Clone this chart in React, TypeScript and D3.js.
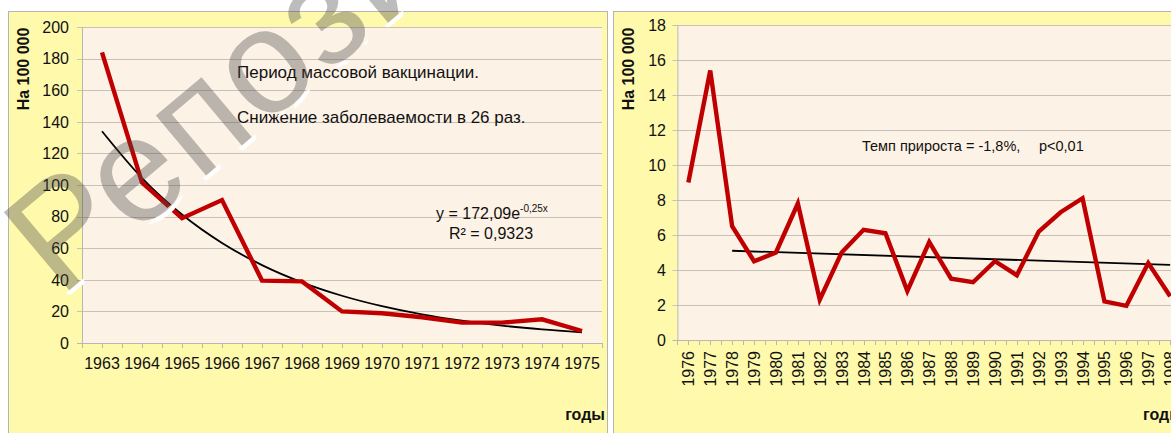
import { useEffect, useRef } from 'react';
import * as d3 from 'd3';

const WIDTH = 1171;
const HEIGHT = 433;
const FONT = '"Liberation Sans", Arial, sans-serif';

// left chart: 1963-1975, mass vaccination period
const yearsA = ['1963', '1964', '1965', '1966', '1967', '1968', '1969', '1970', '1971', '1972', '1973', '1974', '1975'];
const casesA = [184, 101.5, 79, 90.5, 39.5, 39, 20, 18.8, 16.3, 12.9, 12.9, 15, 7.6];
// exponential trend y = 172,09e^-0,25x
const trendA = [134.0, 104.4, 81.3, 63.3, 49.3, 38.4, 29.9, 23.3, 18.1, 14.1, 11.0, 8.6, 6.7];
const ticksA = [0, 20, 40, 60, 80, 100, 120, 140, 160, 180, 200];

// right chart: 1976-1998
const yearsB = ['1976', '1977', '1978', '1979', '1980', '1981', '1982', '1983', '1984', '1985', '1986', '1987', '1988', '1989', '1990', '1991', '1992', '1993', '1994', '1995', '1996', '1997', '1998'];
const casesB = [9.0, 15.4, 6.5, 4.5, 5.0, 7.8, 2.3, 5.0, 6.3, 6.1, 2.8, 5.6, 3.5, 3.3, 4.5, 3.7, 6.2, 7.3, 8.1, 2.2, 1.95, 4.4, 2.5];
const trendBYears = ['1978', '1998'];
const trendBValues = [5.1, 4.29];
const ticksB = [0, 2, 4, 6, 8, 10, 12, 14, 16, 18];

type Sel = d3.Selection<SVGGElement, unknown, null, undefined>;

interface PanelOpts {
  panelX: number;
  plotLeft: number;
  plotTop: number;
  plotBottom: number;
  band: number;
  years: string[];
  yMax: number;
  ticks: number[];
  cases: number[];
  trendYears: string[];
  trendValues: number[];
  rotateLabels: boolean;
  tickLabelX: number;
}

function drawPanel(root: Sel, o: PanelOpts) {
  const g = root.append('g');
  g.append('rect')
    .attr('x', o.panelX + 0.5)
    .attr('y', 11.5)
    .attr('width', 599)
    .attr('height', 500)
    .attr('fill', '#fff9ac')
    .attr('stroke', '#b4b4b4');

  const x = d3
    .scaleBand<string>()
    .domain(o.years)
    .range([o.plotLeft, o.plotLeft + o.band * o.years.length])
    .padding(0);
  const cx = (yr: string) => (x(yr) ?? 0) + x.bandwidth() / 2;
  const y = d3.scaleLinear().domain([0, o.yMax]).range([o.plotBottom, o.plotTop]);
  const plotRight = o.plotLeft + o.band * o.years.length;

  g.append('rect')
    .attr('x', o.plotLeft)
    .attr('y', o.plotTop)
    .attr('width', plotRight - o.plotLeft)
    .attr('height', o.plotBottom - o.plotTop)
    .attr('fill', '#fdf2e6');

  // gridlines + left ticks
  g.append('g')
    .selectAll('line')
    .data(o.ticks.filter((t) => t > 0))
    .join('line')
    .attr('x1', o.plotLeft - 5)
    .attr('x2', plotRight)
    .attr('y1', (t) => Math.round(y(t)) + 0.5)
    .attr('y2', (t) => Math.round(y(t)) + 0.5)
    .attr('stroke', '#c9c1b9')
    .attr('stroke-width', 1);

  // axes
  g.append('line')
    .attr('x1', o.plotLeft + 0.5)
    .attr('x2', o.plotLeft + 0.5)
    .attr('y1', o.plotTop)
    .attr('y2', o.plotBottom)
    .attr('stroke', '#b8b8b0');
  g.append('line')
    .attr('x1', o.plotLeft - 5)
    .attr('x2', plotRight)
    .attr('y1', o.plotBottom + 0.5)
    .attr('y2', o.plotBottom + 0.5)
    .attr('stroke', '#b8b8b0');

  // x tick marks at every half category
  const halfTicks = d3.range(0, o.years.length * 2 + 1).map((i) => o.plotLeft + (i * o.band) / 2);
  g.append('g')
    .selectAll('line')
    .data(halfTicks)
    .join('line')
    .attr('x1', (v) => Math.round(v) + 0.5)
    .attr('x2', (v) => Math.round(v) + 0.5)
    .attr('y1', o.plotBottom)
    .attr('y2', o.plotBottom + 5)
    .attr('stroke', '#b8b8b0');

  // y tick labels
  g.append('g')
    .selectAll('text')
    .data(o.ticks)
    .join('text')
    .attr('x', o.tickLabelX)
    .attr('y', (t) => y(t))
    .attr('dy', '0.36em')
    .attr('text-anchor', 'end')
    .attr('font-family', FONT)
    .attr('font-size', 16)
    .attr('fill', '#111')
    .text((t) => String(t));

  // x tick labels
  const xl = g
    .append('g')
    .selectAll('text')
    .data(o.years)
    .join('text')
    .attr('font-family', FONT)
    .attr('font-size', 16)
    .attr('fill', '#111')
    .text((d) => d);
  if (o.rotateLabels) {
    xl.attr('text-anchor', 'end').attr(
      'transform',
      (d) => `translate(${cx(d) + 6},${o.plotBottom + 11}) rotate(-90)`,
    );
  } else {
    xl.attr('text-anchor', 'middle')
      .attr('x', (d) => cx(d))
      .attr('y', o.plotBottom + 26);
  }

  const line = d3
    .line<number>()
    .x((_, i) => cx(o.years[i]))
    .y((v) => y(v));

  // trend
  const trendLine = d3
    .line<number>()
    .x((_, i) => cx(o.trendYears[i]))
    .y((v) => y(v))
    .curve(d3.curveMonotoneX);
  g.append('path')
    .datum(o.trendValues)
    .attr('d', trendLine)
    .attr('fill', 'none')
    .attr('stroke', '#000')
    .attr('stroke-width', 1.8);

  g.append('path')
    .datum(o.cases)
    .attr('d', line)
    .attr('fill', 'none')
    .attr('stroke', '#c00000')
    .attr('stroke-width', 4.4)
    .attr('stroke-linejoin', 'miter');

  // titles
  g.append('text')
    .attr('transform', `translate(${o.panelX + 21},69) rotate(-90)`)
    .attr('text-anchor', 'middle')
    .attr('font-family', FONT)
    .attr('font-size', 16)
    .attr('font-weight', 'bold')
    .attr('fill', '#111')
    .text('На 100 000');
  return g;
}

export default function App() {
  const svgRef = useRef<SVGSVGElement | null>(null);

  useEffect(() => {
    if (!svgRef.current) return;
    const svg = d3.select(svgRef.current);
    svg.selectAll('*').remove();
    svg.append('rect').attr('width', WIDTH).attr('height', HEIGHT).attr('fill', '#fff');
    const root = svg.append('g') as unknown as Sel;

    const left = drawPanel(root, {
      panelX: 8,
      plotLeft: 82,
      plotTop: 27,
      plotBottom: 343,
      band: 40,
      years: yearsA,
      yMax: 200,
      ticks: ticksA,
      cases: casesA,
      trendYears: yearsA,
      trendValues: trendA,
      rotateLabels: false,
      tickLabelX: 69,
    });
    const text = (g: Sel, x: number, y: number, s: string, size = 17, weight = 'normal') =>
      g
        .append('text')
        .attr('x', x)
        .attr('y', y)
        .attr('font-family', FONT)
        .attr('font-size', size)
        .attr('font-weight', weight)
        .attr('fill', '#111')
        .text(s);

    text(left, 237, 78, 'Период массовой вакцинации.', 17);
    text(left, 237, 123, 'Снижение заболеваемости в 26 раз.', 17);
    const eq = text(left, 436, 219, 'y = 172,09e', 16);
    eq.append('tspan').attr('dy', -7).attr('font-size', 10).text('-0,25x');
    text(left, 449, 239, 'R² = 0,9323', 16);
    text(left, 605, 420, 'годы', 16, 'bold').attr('text-anchor', 'end');

    const right = drawPanel(root, {
      panelX: 613,
      plotLeft: 677.4,
      plotTop: 25,
      plotBottom: 340,
      band: 21.9,
      years: yearsB,
      yMax: 18,
      ticks: ticksB,
      cases: casesB,
      trendYears: trendBYears,
      trendValues: trendBValues,
      rotateLabels: true,
      tickLabelX: 666,
    });
    text(right, 862, 151, 'Темп прироста = -1,8%,', 14.5);
    text(right, 1039, 151, 'p<0,01', 14.5);
    text(right, 1143, 420, 'годы', 16, 'bold');

    // watermark
    const defs = svg.append('defs');
    const wmTransform = 'translate(60,298) rotate(-40)';
    const wmText = 'Репозиторий БГМУ';
    const wmSize = 148;
    const wmFont = '"Liberation Sans", Arial, sans-serif';
    const mask = defs.append('mask').attr('id', 'wm-mask');
    mask.append('rect').attr('width', WIDTH).attr('height', HEIGHT).attr('fill', '#fff');
    mask
      .append('text')
      .attr('transform', wmTransform)
      .attr('font-family', wmFont)
      .attr('font-size', wmSize)
      .attr('letter-spacing', 3)
      .attr('fill', '#000')
      .text(wmText);
    svg
      .append('text')
      .attr('transform', wmTransform)
      .attr('font-family', wmFont)
      .attr('font-size', wmSize)
      .attr('letter-spacing', 3)
      .attr('fill', 'none')
      .attr('stroke', '#fff')
      .attr('stroke-width', 9)
      .attr('stroke-linejoin', 'round')
      .attr('mask', 'url(#wm-mask)')
      .text(wmText);
    svg
      .append('text')
      .attr('transform', wmTransform)
      .attr('font-family', wmFont)
      .attr('font-size', wmSize)
      .attr('letter-spacing', 3)
      .attr('fill', 'rgba(70,70,70,0.36)')
      .text(wmText);
  }, []);

  return (
    <svg
      ref={svgRef}
      width={WIDTH}
      height={HEIGHT}
      style={{ position: 'absolute', left: 0, top: 0, display: 'block' }}
    />
  );
}
